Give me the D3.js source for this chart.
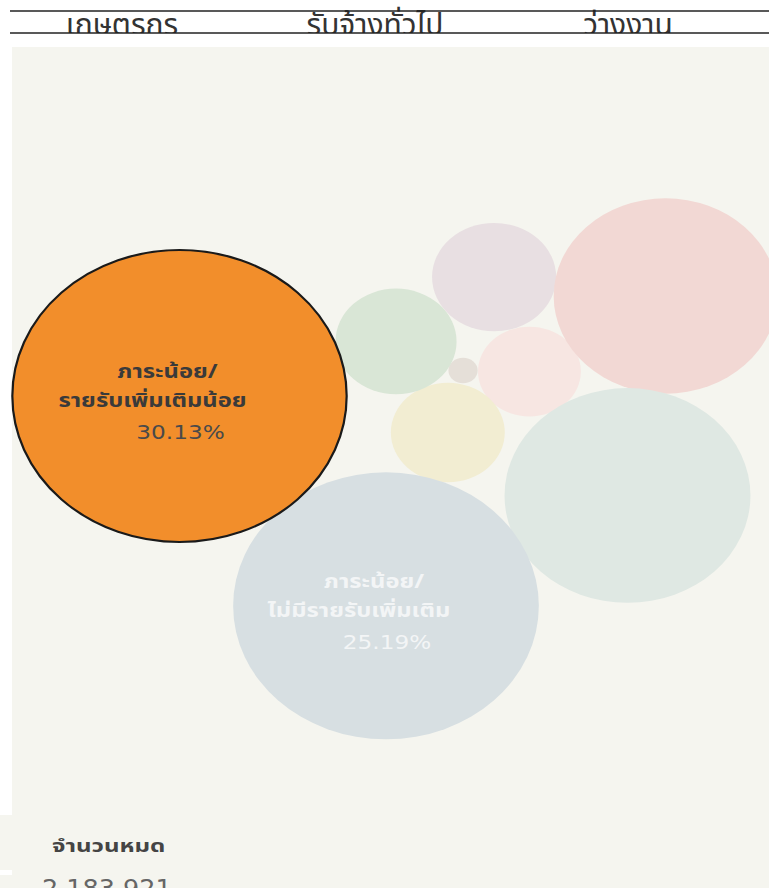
<!DOCTYPE html>
<html><head><meta charset="utf-8">
<script src="https://cdn.jsdelivr.net/npm/d3@7/dist/d3.min.js"></script>
<style>body{margin:0;background:#fff;} svg{display:block}</style>
</head><body>
<svg id="chart" width="769" height="888"></svg>
<script>
// ---- data ----
const columnHeaders = ["เกษตรกร", "รับจ้างทั่วไป", "ว่างงาน"];
const categories = [
  "ภาระน้อย/รายรับเพิ่มเติมน้อย",
  "ภาระน้อย/ไม่มีรายรับเพิ่มเติม",
  "ภาระมาก/ไม่มีรายรับเพิ่มเติม",
  "ภาระมาก/รายรับเพิ่มเติมน้อย",
  "ภาระปานกลาง/รายรับเพิ่มเติมน้อย",
  "ภาระปานกลาง/ไม่มีรายรับเพิ่มเติม",
  "ภาระน้อย/รายรับเพิ่มเติมมาก",
  "ภาระมาก/รายรับเพิ่มเติมมาก",
  "ภาระปานกลาง/รายรับเพิ่มเติมมาก"
];
const shares = [30.13, 25.19, 16.3, 13.5, 4.15, 3.95, 3.5, 2.85, 0.23];
// packed-bubble layout (in radius units of sqrt(share))
const layoutX = [0, 6.78, 14.71, 15.96, 10.33, 7.11, 8.81, 11.49, 9.31];
const layoutY = [0, 7.89, 3.74, -3.76, -4.47, -2.05, 1.37, -0.92, -0.96];
const labelLines = [
  ["ภาระน้อย/", "รายรับเพิ่มเติมน้อย"],
  ["ภาระน้อย/", "ไม่มีรายรับเพิ่มเติม"]
];
const totalLabel = "จำนวนหมด";
const totalValue = 2183921;

// ---- styles ----
const fills = ["#f28e2b", "#d7dfe2", "#dfe8e3", "#f2d8d4", "#e8dfe2", "#d9e6d6", "#f2edd2", "#f7e6e2", "#e5dfd8"];
const thaiFont = "Tahoma, 'Noto Sans Thai', 'Leelawadee UI', 'DejaVu Sans', sans-serif";
const numFont = "Verdana, 'DejaVu Sans', sans-serif";
const W = 769, H = 888;
const aspect = 1.145;

const svg = d3.select("#chart");

function stretch(sel, sx) {
  sel.attr("transform", function () {
    const tx = +d3.select(this).attr("x");
    return `translate(${tx},0) scale(${sx},1) translate(${-tx},0)`;
  });
}

// background panels
svg.append("rect").attr("x", 12).attr("y", 47).attr("width", W - 12).attr("height", 770).attr("fill", "#f5f5ef");
svg.append("rect").attr("x", 0).attr("y", 815).attr("width", W).attr("height", H - 815).attr("fill", "#f5f5ef");
svg.append("rect").attr("x", 0).attr("y", 870).attr("width", 12).attr("height", 5).attr("fill", "#ffffff");

// header
const clip = svg.append("defs").append("clipPath").attr("id", "hdrclip");
clip.append("rect").attr("x", 0).attr("y", 0).attr("width", W).attr("height", 33);
const hx = d3.scalePoint().domain(columnHeaders).range([122, 628]);
svg.append("g").attr("clip-path", "url(#hdrclip)")
  .selectAll("text").data(columnHeaders).join("text")
  .attr("x", d => hx(d)).attr("y", 35)
  .attr("text-anchor", "middle")
  .attr("font-family", thaiFont).attr("font-size", 30)
  .attr("fill", "#333")
  .text(d => d);
svg.append("line").attr("x1", 10).attr("x2", W).attr("y1", 11).attr("y2", 11).attr("stroke", "#222").attr("stroke-width", 1.5);
svg.append("line").attr("x1", 10).attr("x2", W).attr("y1", 33).attr("y2", 33).attr("stroke", "#222").attr("stroke-width", 1.5);

// scales
const r = d3.scaleSqrt().domain([0, d3.max(shares)]).range([0, 146]);
const unit = r(1);
const x = d3.scaleLinear().domain([0, 1]).range([179.5, 179.5 + unit * aspect]);
const y = d3.scaleLinear().domain([0, 1]).range([396, 396 + unit]);

const data = shares.map((v, i) => ({
  name: categories[i], v, lx: layoutX[i], ly: layoutY[i], fill: fills[i], i
}));
const order = data.slice().sort((a, b) => b.i - a.i); // highlighted bubble drawn last

svg.append("g").selectAll("ellipse").data(order).join("ellipse")
  .attr("cx", d => x(d.lx)).attr("cy", d => y(d.ly))
  .attr("rx", d => r(d.v) * aspect).attr("ry", d => r(d.v))
  .attr("fill", d => d.fill)
  .attr("stroke", d => d.i === 0 ? "#1a1a1a" : "none")
  .attr("stroke-width", 2.2);

// labels
const lineDx = [-12, -27, 1];
const lblStyles = [
  {fill: "#3a3a3a", pfill: "#4a4a4a"},
  {fill: "#f3f5f6", pfill: "#f3f5f6"}
];
labelLines.forEach((lines, i) => {
  const d = data[i];
  const cx = x(d.lx), cy = y(d.ly);
  const g = svg.append("g");
  lines.forEach((t, j) => {
    g.append("text").attr("x", cx + lineDx[j]).attr("y", cy - 18 + j * 29)
      .attr("text-anchor", "middle").attr("font-family", thaiFont)
      .attr("font-size", 19).attr("font-weight", "bold")
      .attr("fill", lblStyles[i].fill).text(t)
      .call(stretch, 1.25);
  });
  g.append("text").attr("x", cx + lineDx[2]).attr("y", cy + 43)
    .attr("text-anchor", "middle").attr("font-family", numFont)
    .attr("font-size", 19)
    .attr("fill", lblStyles[i].pfill).text(d3.format(".2f")(d.v) + "%")
    .call(stretch, 1.22);
});

// total
svg.append("text").attr("x", 52).attr("y", 852).attr("font-family", thaiFont)
  .attr("font-size", 17).attr("font-weight", "bold").attr("fill", "#444").text(totalLabel)
  .call(stretch, 1.42);
svg.append("text").attr("x", 42).attr("y", 897).attr("font-family", numFont)
  .attr("font-size", 25).attr("fill", "#666").text(d3.format(",")(totalValue))
  .call(stretch, 1.02);
</script>
</body></html>
